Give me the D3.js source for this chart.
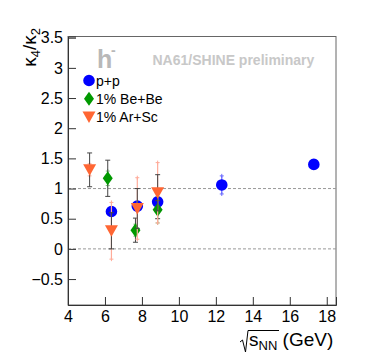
<!DOCTYPE html>
<html><head><meta charset="utf-8">
<script src="https://cdn.jsdelivr.net/npm/d3@7"></script>
<style>body{margin:0;background:#fff}svg{display:block;font-family:"Liberation Sans",Arial,sans-serif}</style>
</head><body><svg id="c" width="374" height="360"></svg>
<script>
// ---- data ----
const seriesNames = ["p+p", "1% Be+Be", "1% Ar+Sc"];
const ppX = [6.35, 7.75, 8.85, 12.32, 17.3];
const ppY = [0.62, 0.71, 0.78, 1.06, 1.40];
const ppStat = [0.04, 0.04, 0.04, 0.06, 0.03];
const ppSys = [0.05, 0.05, 0.05, 0.15, 0.03];
const beX = [6.15, 7.65, 8.85];
const beY = [1.17, 0.31, 0.65];
const beStat = [0.30, 0.20, 0.15];
const beSys = [0.12, 0.10, 0.22];
const arX = [5.17, 6.35, 7.75, 8.85];
const arY = [1.31, 0.30, 0.67, 0.93];
const arStat = [0.28, 0.30, 0.33, 0.30];
const arSys = [0.10, 0.47, 0.51, 0.50];
const xTicks = [4, 6, 8, 10, 12, 14, 16, 18];
const yTicks = [-0.5, 0, 0.5, 1, 1.5, 2, 2.5, 3, 3.5];
const refLines = [0, 1];

const svg = d3.select("#c");
const L = 68, R = 336, T = 36.5, B = 305;
const x = d3.scaleLinear([4, 18.5], [L, R]);
const y = d3.scaleLinear([-0.93, 3.52], [B, T]);

// frame
svg.append("rect").attr("x", L).attr("y", T).attr("width", R - L).attr("height", B - T)
  .attr("fill", "none").attr("stroke", "#666").attr("stroke-width", 1);

// reference dashed lines
svg.selectAll(".ref").data(refLines).join("line")
  .attr("x1", L).attr("x2", R).attr("y1", d => y(d)).attr("y2", d => y(d))
  .attr("stroke", "#999").attr("stroke-width", 1).attr("stroke-dasharray", "3,2");

const fmt = d => d < 0 ? "\u2212" + Math.abs(d) : String(d);
// axes
const gx = svg.append("g").attr("transform", `translate(0,${B})`);
gx.call(d3.axisBottom(x).tickValues(d3.range(4, 18.41, 0.4)).tickSize(-4).tickFormat(""));
gx.call(d3.axisBottom(x).tickValues(xTicks).tickSize(-8).tickPadding(6).tickFormat(fmt));
const gy = svg.append("g").attr("transform", `translate(${L},0)`);
gy.call(d3.axisLeft(y).tickValues(d3.range(-0.9, 3.51, 0.1)).tickSize(-4).tickFormat(""));
gy.call(d3.axisLeft(y).tickValues(yTicks).tickSize(-8).tickPadding(5).tickFormat(fmt));
svg.selectAll(".domain").attr("stroke", "#333");
svg.selectAll(".tick line").attr("stroke", "#333");
svg.selectAll(".tick text").attr("font-size", 16).attr("fill", "#000")
  .attr("font-family", "Liberation Sans, Arial, sans-serif");

// error bars & markers
function series(xs, ys, stat, sys, color, light, shape) {
  const d = xs.map((v, i) => ({x: v, y: ys[i], st: stat[i], sy: sys[i]}));
  const g = svg.append("g");
  g.selectAll(".sys").data(d).join("line")
    .attr("x1", p => x(p.x)).attr("x2", p => x(p.x))
    .attr("y1", p => y(p.y + p.sy)).attr("y2", p => y(p.y - p.sy))
    .attr("stroke", light).attr("stroke-width", 1.2);
  g.selectAll(".sysc").data(d.flatMap(p => [{x: p.x, v: p.y + p.sy}, {x: p.x, v: p.y - p.sy}])).join("path")
    .attr("d", p => `M${x(p.x) - 2},${y(p.v)}h4M${x(p.x)},${y(p.v) - 2}v4`)
    .attr("stroke", light).attr("stroke-width", 1);
  g.selectAll(".stat").data(d).join("line")
    .attr("x1", p => x(p.x)).attr("x2", p => x(p.x))
    .attr("y1", p => y(p.y + p.st)).attr("y2", p => y(p.y - p.st))
    .attr("stroke", "#444").attr("stroke-width", 1);
  g.selectAll(".statc").data(d.flatMap(p => [{x: p.x, v: p.y + p.st}, {x: p.x, v: p.y - p.st}])).join("line")
    .attr("x1", p => x(p.x) - 2.5).attr("x2", p => x(p.x) + 2.5)
    .attr("y1", p => y(p.v)).attr("y2", p => y(p.v))
    .attr("stroke", "#444").attr("stroke-width", 1);
  g.selectAll(".m").data(d).join("path")
    .attr("d", shape)
    .attr("transform", p => `translate(${x(p.x)},${y(p.y)})`)
    .attr("fill", color);
}
const circle = "M-5.8,0a5.8,5.8 0 1,0 11.6,0a5.8,5.8 0 1,0 -11.6,0Z";
const diamond = "M0,-7L5,0L0,7L-5,0Z";
const tri = "M-6.5,-5.5L6.5,-5.5L0,6Z";
const cPP = "#0000ff", cBE = "#009900", cAR = "#ff6633";
series(ppX, ppY, ppStat, ppSys, cPP, "#6a6aff", circle);
series(beX, beY, beStat, beSys, cBE, "#7fc07f", diamond);
series(arX, arY, arStat, arSys, cAR, "#ffab99", tri);

// legend
const legShapes = [circle, diamond, tri], legColors = [cPP, cBE, cAR];
const leg = svg.append("g");
seriesNames.forEach((n, i) => {
  const yy = 80.5 + i * 18.2;
  leg.append("path").attr("d", legShapes[i]).attr("fill", legColors[i])
    .attr("transform", `translate(89,${yy})`);
  leg.append("text").attr("x", 96).attr("y", yy + 5).attr("font-size", 14).text(n);
});

// watermark texts
svg.append("text").attr("x", 97).attr("y", 68).attr("font-size", 25).attr("font-weight", "bold")
  .attr("fill", "#b8b8b8").text("h");
svg.append("text").attr("x", 111).attr("y", 55).attr("font-size", 14).attr("font-weight", "bold")
  .attr("fill", "#b8b8b8").text("-");
svg.append("text").attr("x", 152.5).attr("y", 65).attr("font-size", 14).attr("font-weight", "bold")
  .attr("fill", "#c8c8c8").text("NA61/SHINE preliminary");

// y title
const yt = svg.append("text").attr("transform", "translate(36,28) rotate(-90)")
  .attr("text-anchor", "end").attr("font-size", 19);
yt.append("tspan").text("\u03ba");
yt.append("tspan").attr("font-size", 13).attr("dy", 4).text("4");
yt.append("tspan").attr("dy", -4).text("/\u03ba");
yt.append("tspan").attr("font-size", 13).attr("dy", 4).text("2");

// x title
svg.append("path").attr("d", "M240,342L242.5,340L245.5,352L248,330.5H279")
  .attr("fill", "none").attr("stroke", "#000").attr("stroke-width", 1);
const xt = svg.append("text").attr("x", 249).attr("y", 346).attr("font-size", 19);
xt.append("tspan").text("s");
xt.append("tspan").attr("font-size", 13).attr("dy", 4).text("NN");
xt.append("tspan").attr("dy", -4).text(" (GeV)");
</script></body></html>
